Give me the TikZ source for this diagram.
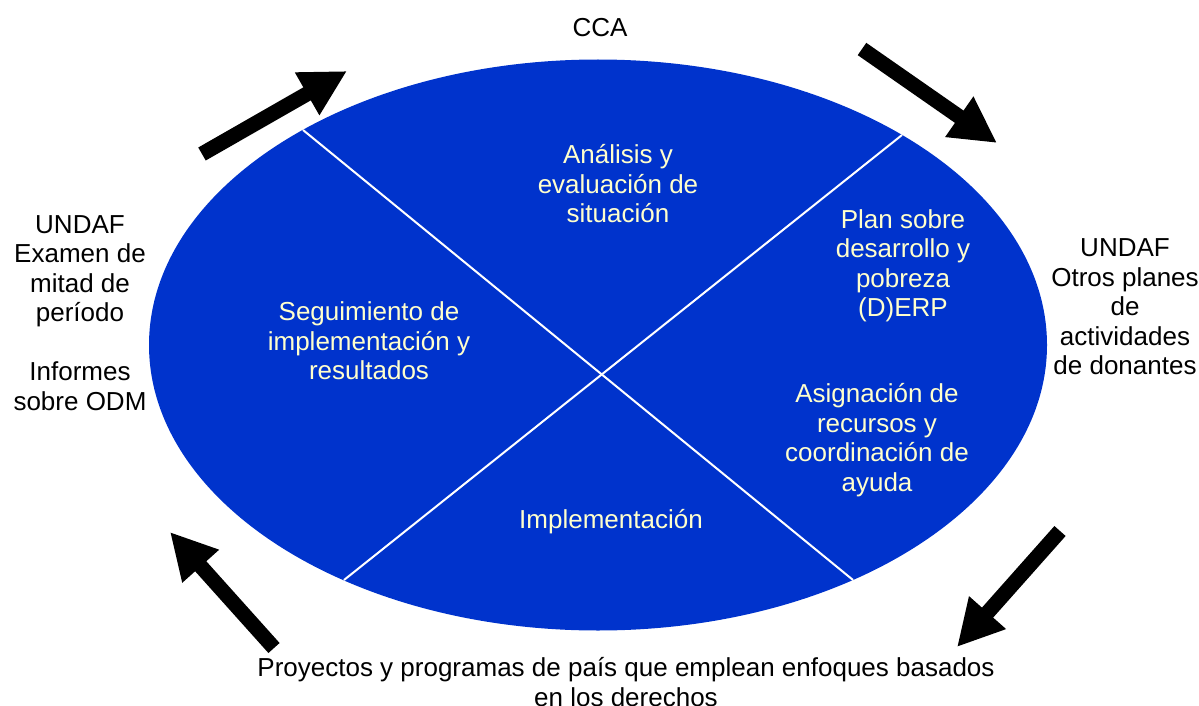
\documentclass[tikz,border=0pt]{standalone}
\usepackage{fontspec}
\setmainfont{Liberation Sans}
\usetikzlibrary{shapes.geometric,arrows.meta,positioning}
\definecolor{ccablue}{RGB}{0,51,204}
\definecolor{paleyellow}{RGB}{255,255,204}

\begin{document}
\begin{tikzpicture}[
        x=1pt, y=-1pt,
        every node/.style={align=center, font=\fontsize{26}{29.5}\selectfont},
        stage/.style={text=paleyellow},
        outside/.style={text=black},
        divider/.style={draw=white, line width=2pt},
        bigarrow/.style={draw=black, line width=15pt, -{Triangle[width=46pt, length=46pt]}}
    ]
        \useasboundingbox (0,0) rectangle (1199,706);

        % Ellipse
        \node[ellipse, fill=ccablue, minimum width=898pt, minimum height=571pt, inner sep=0pt] (cycle) at (598,345) {};

        % Dividers
        \coordinate (ul) at (303,130);
        \coordinate (lr) at (853,580);
        \coordinate (ur) at (902,135);
        \coordinate (ll) at (344,580);
        \draw[divider] (ul) -- (lr);
        \draw[divider] (ur) -- (ll);

        % Stages
        \node[stage] (analisis) at (618,184) {Análisis y\\evaluación de\\situación};
        \node[stage] (plan) at (903,266) {Plan sobre\\desarrollo y\\pobreza\\(D)ERP};
        \node[stage] (asignacion) at (877,440) {Asignación de\\recursos y\\coordinación de\\ayuda};
        \node[stage] (implementacion) at (611,522) {Implementación};
        \node[stage] (seguimiento) at (369,341) {Seguimiento de\\implementación y\\resultados};

        % Outside labels
        \node[outside] (cca) at (600,28) {CCA};
        \node[outside] (undafR) at (1125,307) {UNDAF\\Otros planes\\de\\actividades\\de donantes};
        \node[outside] (undafL) at (80,313) {UNDAF\\Examen de\\mitad de\\período\\[29.5pt]Informes\\sobre ODM};
        \node[outside] (proyectos) at (626,682) {Proyectos y programas de país que emplean enfoques basados\\en los derechos};

        % Arrows
        \coordinate (a1) at (202,154);
        \coordinate (b1) at (347,71);
        \coordinate (a2) at (862,49);
        \coordinate (b2) at (997,143);
        \coordinate (a3) at (1060,531);
        \coordinate (b3) at (957,647);
        \coordinate (a4) at (274,648);
        \coordinate (b4) at (170,532);
        \draw[bigarrow] (a1) -- (b1);
        \draw[bigarrow] (a2) -- (b2);
        \draw[bigarrow] (a3) -- (b3);
        \draw[bigarrow] (a4) -- (b4);

    \end{tikzpicture}
\end{document}
